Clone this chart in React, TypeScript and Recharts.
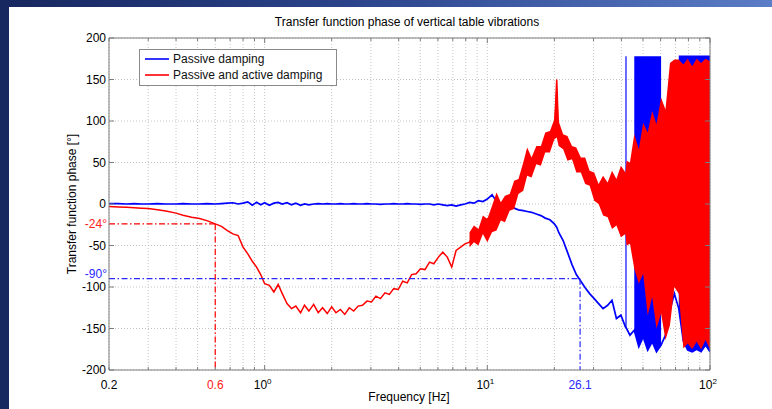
import { Area, CartesianGrid, ComposedChart, Line, ReferenceLine, XAxis, YAxis } from "recharts";

// frequency grid (Hz)
const freqs = [
  0.2, 0.22, 0.24, 0.26, 0.28, 0.3, 0.33, 0.36, 0.4, 0.43,
  0.47, 0.51, 0.55, 0.6, 0.64, 0.68, 0.72, 0.76, 0.8, 0.84,
  0.88, 0.92, 0.96, 1.0, 1.05, 1.1, 1.15, 1.2, 1.26, 1.32,
  1.38, 1.45, 1.51, 1.58, 1.66, 1.74, 1.82, 1.91, 2.0, 2.09,
  2.19, 2.29, 2.4, 2.51, 2.63, 2.75, 2.88, 3.02, 3.16, 3.31,
  3.47, 3.63, 3.8, 3.98, 4.17, 4.37, 4.57, 4.79, 5.01, 5.25,
  5.5, 5.75, 6.03, 6.31, 6.61, 6.92, 7.24, 7.59, 7.94, 8.32,
  8.71, 9.12, 9.55, 10, 10.5, 11, 11.5, 12, 12.6, 13.2,
  13.8, 14.5, 15.1, 15.8, 16.6, 17.4, 18.2, 19.1, 20, 20.5,
  20.9, 21.9, 22.9, 24, 25.1, 26.3, 27.5, 28.8, 30.2, 31.6,
  33.1, 34.7, 36.3, 38, 39.8, 41.7, 42.2, 43.7, 45.7, 47.9,
  50.1, 52.5, 55, 57.5, 60.3, 63.1, 66.1, 69.2, 72.4, 75.9,
  79.4, 83.2, 87.1, 91.2, 95.5, 100
];

// passive damping phase (deg)
const passive = [
  0.5, 0.5, 0, 0.5, 0, 0, 0.5, 0, 0, 0.5,
  0, 0, 0.5, 0, 0.5, 1, 1.5, 0, 1, 2.5,
  -1.5, 2, -1, 1.5, -1.5, 1, 2, 0, 1.5, -1,
  1, -1.5, 0, -1, 0, 0.5, 0, 0.5, 0, 0,
  0.5, 0, 0, 0.5, 0, 0, 0.5, 0, 0, -0.5,
  0, 0, 0.5, 0, 0, 0.5, 0, 0, -0.5, 0,
  0, -1, 0, -1, -2, -1, -2.5, -1, 0, 2,
  1, 4, 3, 6, 11, 3, -1, -3, -4, -5,
  -7, -8, -9, -10, -12, -14, -17, -19, -24, -28,
  -34, -44, -58, -73, -85, -93, -101, -108, -114, -120,
  -126, -122, -116, -138, -134, -148, -150, -158, -152, -172,
  -160, -176, -166, -178, -170, -158, -128, -108, -126, -165,
  -176, -178, -175, -178, -170, -178
];

// passive damping: phase-wrap spikes (low / high of each burst)
const passiveLo = [
  null, null, null, null, null, null, null, null, null, null,
  null, null, null, null, null, null, null, null, null, null,
  null, null, null, null, null, null, null, null, null, null,
  null, null, null, null, null, null, null, null, null, null,
  null, null, null, null, null, null, null, null, null, null,
  null, null, null, null, null, null, null, null, null, null,
  null, null, null, null, null, null, null, null, null, null,
  null, null, null, null, null, null, null, null, null, null,
  null, null, null, null, null, null, null, null, null, null,
  null, null, null, null, null, null, null, null, null, null,
  null, null, null, null, null, -148, -150, null, -152, -172,
  -160, -176, -166, -178, -170, null, null, null, -126, -165,
  -176, -178, -175, -178, -170, -178
];
const passiveHi = [
  null, null, null, null, null, null, null, null, null, null,
  null, null, null, null, null, null, null, null, null, null,
  null, null, null, null, null, null, null, null, null, null,
  null, null, null, null, null, null, null, null, null, null,
  null, null, null, null, null, null, null, null, null, null,
  null, null, null, null, null, null, null, null, null, null,
  null, null, null, null, null, null, null, null, null, null,
  null, null, null, null, null, null, null, null, null, null,
  null, null, null, null, null, null, null, null, null, null,
  null, null, null, null, null, null, null, null, null, null,
  null, null, null, null, null, 178, 178, null, 178, 178,
  178, 178, 178, 178, 178, null, null, null, 179, 179,
  179, 179, 179, 179, 179, 179
];

// passive and active damping phase (deg)
const active = [
  -3, -3.5, -4, -4.5, -5, -5.5, -7, -8.5, -11, -13.5,
  -16, -17.5, -20, -24, -27, -32, -36, -38, -52, -60,
  -69, -76, -85, -96, -98, -106, -97, -108, -120, -126,
  -123, -131, -122, -129, -121, -131, -125, -132, -124, -131,
  -127, -133, -125, -129, -123, -122, -117, -118, -111, -114,
  -107, -109, -102, -103, -93, -95, -85, -84, -78, -79,
  -70, -72, -64, -58, -64, -76, -56, -52, -48, -46,
  -36, -38, -26, -18, -26, -4, -14, -4, 2, 14,
  22, 38, 62, 46, 56, 62, 72, 80, 88, 150,
  84, 76, 68, 62, 54, 48, 40, 32, 22, 14,
  10, 16, 6, 2, 12, -4, 8, -6, 10, -12,
  14, -10, 8, -14, 12, -8, 10, -6, 4, -4,
  6, -8, 4, -6, 8, 0
];

// active damping: noise envelope
const activeLo = [
  null, null, null, null, null, null, null, null, null, null,
  null, null, null, null, null, null, null, null, null, null,
  null, null, null, null, null, null, null, null, null, null,
  null, null, null, null, null, null, null, null, null, null,
  null, null, null, null, null, null, null, null, null, null,
  null, null, null, null, null, null, null, null, null, null,
  null, null, null, null, null, null, null, null, null, -52,
  -46, -50, -36, -46, -34, -32, -20, -22, -8, -6,
  12, 16, 34, 32, 48, 46, 62, 62, 78, 80,
  70, 66, 52, 54, 38, 38, 24, 22, 4, 0,
  -14, -16, -30, -26, -40, -36, -50, -48, -78, -96,
  -84, -134, -112, -150, -132, -164, -146, -100, -108, -174,
  -168, -175, -166, -175, -164, -175
];
const activeHi = [
  null, null, null, null, null, null, null, null, null, null,
  null, null, null, null, null, null, null, null, null, null,
  null, null, null, null, null, null, null, null, null, null,
  null, null, null, null, null, null, null, null, null, null,
  null, null, null, null, null, null, null, null, null, null,
  null, null, null, null, null, null, null, null, null, null,
  null, null, null, null, null, null, null, null, null, -34,
  -26, -30, -14, -18, -2, 14, 2, 10, 12, 28,
  30, 50, 68, 56, 70, 70, 86, 88, 102, 152,
  100, 84, 82, 70, 68, 56, 56, 40, 38, 24,
  34, 26, 40, 30, 46, 38, 52, 50, 84, 66,
  98, 86, 112, 96, 128, 114, 170, 174, 174, 168,
  175, 166, 175, 170, 175, 172
];

const xTicks = [0.2, 0.3, 0.4, 0.5, 0.6, 0.7, 0.8, 0.9, 1, 2, 3, 4, 5, 6, 7, 8, 9, 10, 20, 30, 40, 50, 60, 70, 80, 90, 100];
const decadeTicks = [1, 10, 100];
const decadeExponents = ["0", "1", "2"];
const yTicks = [-200, -150, -100, -50, 0, 50, 100, 150, 200];

// annotation points
const activeMark = { f: 0.6, phase: -24 };
const passiveMark = { f: 26.1, phase: -90 };

const rows = freqs.map((f, i) => ({
  f,
  passive: passive[i],
  active: active[i],
  passiveSpread: passiveLo[i] == null ? null : [passiveLo[i], passiveHi[i]],
  activeSpread: activeLo[i] == null ? null : [activeLo[i], activeHi[i]]
}));

const W = 772;
const H = 409;
const MARGIN = { top: 38, right: 62, bottom: 9, left: 49 };
const PLOT_TOP = MARGIN.top;
const PLOT_RIGHT = W - MARGIN.right;
const FONT = "'Liberation Sans', Arial, Helvetica, sans-serif";
const AXIS = "#7c7c7c";
const BLUE = "#0000ff";
const RED = "#ff0000";
const DASHDOT = "6 2.5 1.5 2.5";

function XTick(props: any) {
  const { x, y, payload } = props;
  const v = Number(payload.value);
  const d = decadeTicks.indexOf(v);
  const len = d >= 0 ? 5 : 3;
  const base = y - 10;
  return (
    <g>
      <line x1={x} x2={x} y1={base} y2={base - len} stroke={AXIS} />
      <line x1={x} x2={x} y1={PLOT_TOP} y2={PLOT_TOP + len} stroke={AXIS} />
      {v === xTicks[0] && (
        <text x={x} y={y} dy="0.71em" textAnchor="middle" fontSize={12} fontFamily={FONT} fill="#000">
          {v}
        </text>
      )}
      {d >= 0 && (
        <text x={x - 2} y={y} dy="0.71em" textAnchor="middle" fontSize={12} fontFamily={FONT} fill="#000">
          10
          <tspan dy={-5} fontSize={8}>
            {decadeExponents[d]}
          </tspan>
        </text>
      )}
    </g>
  );
}

function YTick(props: any) {
  const { x, y, payload } = props;
  const axisX = x + 3;
  return (
    <g>
      <line x1={axisX} x2={axisX + 5} y1={y} y2={y} stroke={AXIS} />
      <line x1={PLOT_RIGHT} x2={PLOT_RIGHT - 5} y1={y} y2={y} stroke={AXIS} />
      <text x={x} y={y} dy="0.35em" textAnchor="end" fontSize={12} fontFamily={FONT} fill="#000">
        {payload.value}
      </text>
    </g>
  );
}

function leftLabel(text: string, color: string, shift: number) {
  return (props: any) => {
    const vb = props.viewBox;
    return (
      <text x={vb.x - 2} y={vb.y + shift} dy="0.35em" textAnchor="end" fontSize={12} fontFamily={FONT} fill={color}>
        {text}
      </text>
    );
  };
}

function bottomLabel(text: string, color: string) {
  return (props: any) => {
    const vb = props.viewBox;
    return (
      <text x={vb.x} y={vb.y + vb.height + 10} dy="0.71em" textAnchor="middle" fontSize={12} fontFamily={FONT} fill={color}>
        {text}
      </text>
    );
  };
}

function LegendBox() {
  const item = (color: string, text: string) => (
    <div style={{ display: "flex", alignItems: "center", height: 16 }}>
      <svg width={28} height={10} style={{ marginLeft: 5 }}>
        <line x1={0} x2={24} y1={5} y2={5} stroke={color} strokeWidth={1.6} />
      </svg>
      <span>{text}</span>
    </div>
  );
  return (
    <div
      style={{
        position: "absolute",
        left: 139,
        top: 49,
        width: 196,
        height: 34,
        border: "1px solid #8a8a8a",
        background: "#fff",
        fontFamily: FONT,
        fontSize: 12,
        color: "#111",
        paddingTop: 1,
        boxSizing: "content-box"
      }}
    >
      {item(BLUE, "Passive damping")}
      {item(RED, "Passive and active damping")}
    </div>
  );
}

export default function App() {
  return (
    <div
      style={{
        position: "absolute",
        left: 0,
        top: 0,
        width: W,
        height: H,
        overflow: "hidden",
        background: "linear-gradient(90deg, #17275f 0%, #2a438a 45%, #5b7cc6 100%)"
      }}
    >
      <div style={{ position: "absolute", left: 9, top: 7, right: 0, bottom: 0, background: "#fff" }} />
      <div
        style={{
          position: "absolute",
          left: 407,
          top: 15,
          transform: "translateX(-50%)",
          whiteSpace: "nowrap",
          fontFamily: FONT,
          fontSize: 12,
          lineHeight: "14px",
          color: "#000"
        }}
      >
        Transfer function phase of vertical table vibrations
      </div>
      <div
        style={{
          position: "absolute",
          left: 72,
          top: 204,
          transform: "translate(-50%, -50%) rotate(-90deg)",
          whiteSpace: "nowrap",
          fontFamily: FONT,
          fontSize: 12,
          lineHeight: "14px",
          color: "#000"
        }}
      >
        Transfer function phase [°]
      </div>
      <div
        style={{
          position: "absolute",
          left: 409,
          top: 397,
          transform: "translate(-50%, -50%)",
          whiteSpace: "nowrap",
          fontFamily: FONT,
          fontSize: 12,
          lineHeight: "14px",
          color: "#000"
        }}
      >
        Frequency [Hz]
      </div>
      <div style={{ position: "absolute", left: 0, top: 0 }}>
        <ComposedChart width={W} height={H} data={rows} margin={MARGIN}>
          <CartesianGrid stroke="#c4c4c4" strokeDasharray="1 2" />
          <XAxis
            dataKey="f"
            type="number"
            scale="log"
            domain={[0.2, 100]}
            ticks={xTicks}
            interval={0}
            allowDataOverflow
            height={30}
            tickLine={false}
            tickSize={0}
            tickMargin={10}
            axisLine={{ stroke: AXIS }}
            tick={(p: any) => <XTick {...p} />}
          />
          <YAxis
            type="number"
            domain={[-200, 200]}
            ticks={yTicks}
            interval={0}
            allowDataOverflow
            width={60}
            tickLine={false}
            tickSize={0}
            tickMargin={3}
            axisLine={{ stroke: AXIS }}
            tick={(p: any) => <YTick {...p} />}
          />
          <ReferenceLine y={200} stroke={AXIS} />
          <ReferenceLine x={100} stroke={AXIS} />
          <Area
            dataKey="passiveSpread"
            type="linear"
            stroke="none"
            fill={BLUE}
            fillOpacity={1}
            connectNulls={false}
            dot={false}
            activeDot={false}
            isAnimationActive={false}
            zIndex={100}
          />
          <Line
            dataKey="passive"
            type="linear"
            stroke={BLUE}
            strokeWidth={1.7}
            dot={false}
            activeDot={false}
            isAnimationActive={false}
            zIndex={110}
          />
          <Area
            dataKey="activeSpread"
            type="linear"
            stroke="none"
            fill={RED}
            fillOpacity={1}
            connectNulls={false}
            dot={false}
            activeDot={false}
            isAnimationActive={false}
            zIndex={120}
          />
          <Line
            dataKey="active"
            type="linear"
            stroke={RED}
            strokeWidth={1.5}
            dot={false}
            activeDot={false}
            isAnimationActive={false}
            zIndex={130}
          />
          <ReferenceLine
            segment={[{ x: 0.2, y: activeMark.phase }, { x: activeMark.f, y: activeMark.phase }]}
            stroke={RED}
            strokeWidth={1.2}
            strokeDasharray={DASHDOT}
            label={leftLabel(`${activeMark.phase}°`, "#ff2020", 0)}
          />
          <ReferenceLine
            segment={[{ x: activeMark.f, y: activeMark.phase }, { x: activeMark.f, y: -200 }]}
            stroke={RED}
            strokeWidth={1.2}
            strokeDasharray={DASHDOT}
            label={bottomLabel(`${activeMark.f}`, "#ff2020")}
          />
          <ReferenceLine
            segment={[{ x: 0.2, y: passiveMark.phase }, { x: passiveMark.f, y: passiveMark.phase }]}
            stroke="#2a2aff"
            strokeWidth={1.2}
            strokeDasharray={DASHDOT}
            label={leftLabel(`${passiveMark.phase}°`, "#2a2aff", -5)}
          />
          <ReferenceLine
            segment={[{ x: passiveMark.f, y: passiveMark.phase }, { x: passiveMark.f, y: -200 }]}
            stroke="#2a2aff"
            strokeWidth={1.2}
            strokeDasharray={DASHDOT}
            label={bottomLabel(`${passiveMark.f}`, "#2a2aff")}
          />
        </ComposedChart>
      </div>
      <LegendBox />
    </div>
  );
}
